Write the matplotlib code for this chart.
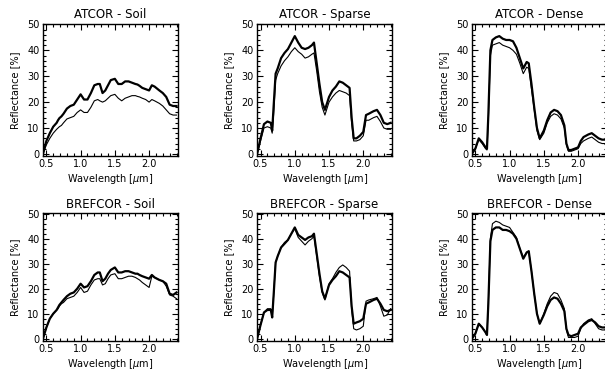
import numpy as np
import matplotlib
matplotlib.use('Agg')
import matplotlib.pyplot as plt
from matplotlib.ticker import MultipleLocator

# wavelength grid in micrometres (shared by every spectrum)
wavelength = [0.45, 0.50, 0.55, 0.60, 0.65, 0.67, 0.69, 0.72, 0.75, 0.80,
              0.85, 0.90, 0.95, 1.00, 1.05, 1.10, 1.15, 1.20, 1.25, 1.28,
              1.32, 1.36, 1.40, 1.44, 1.50, 1.55, 1.60, 1.65, 1.70, 1.75,
              1.80, 1.83, 1.86, 1.90, 1.95, 2.00, 2.04, 2.08, 2.15, 2.20,
              2.25, 2.30, 2.35, 2.40]

# ATCOR - soil
atcor_soil_thick = [0, 5, 8, 10.5, 12, 13, 13.8, 14.5, 15.5, 17.5,
                    18.5, 19, 21, 23, 21, 21, 23.5, 26.5, 27, 27,
                    23.5, 24.5, 26.5, 28.5, 29, 27, 27, 28, 28, 27.5,
                    27, 26.8, 26.3, 25.5, 25, 24.5, 26.5, 26, 24.5, 23.5,
                    22, 19, 18.5, 18.5]
atcor_soil_thin = [0, 3.5, 6, 8, 9.5, 10, 10.5, 11, 12, 13.5,
                   14, 14.5, 16, 17, 16, 16, 18, 20.5, 21, 20.5,
                   20, 20.5, 21.5, 22.5, 23, 21.5, 20.5, 21.5, 22, 22.5,
                   22.5, 22.2, 22, 21.5, 21, 20, 21, 20.5, 19.5, 18.5,
                   17, 15.5, 15, 15]

# ATCOR - sparse
atcor_sparse_thick = [0, 6, 11.5, 12.5, 12, 9, 18, 31, 33, 37,
                      39, 40.5, 43, 45.5, 43, 41, 40.5, 41, 42, 43,
                      35, 27, 20, 17, 22, 24.5, 26, 28, 27.5, 26.5,
                      25.5, 14, 6, 6, 7, 8.5, 15, 15.5, 16.5, 17,
                      15, 12, 11.5, 12]
atcor_sparse_thin = [0, 5, 10, 10.5, 10, 8, 15, 28.5, 31, 34,
                     36, 37.5, 39.5, 41, 39.5, 38.5, 37, 37.5, 38.5, 39,
                     32, 24, 18, 15, 20, 22, 23.5, 24.5, 24, 23.5,
                     22.5, 12, 5, 5, 5.5, 7, 13, 13, 14, 14.5,
                     12.5, 10, 9.5, 9.5]

# ATCOR - dense
atcor_dense_thick = [0, 2, 6, 4.5, 2.5, 2, 15, 40, 44, 45,
                     45.5, 44.5, 44, 44, 43.5, 41, 37, 33, 35.5, 35,
                     27, 18, 10, 6, 9, 13, 16, 17, 16.5, 15,
                     11, 4, 1.5, 1.5, 2, 2.5, 5, 6.5, 7.5, 8,
                     7, 6, 5.5, 5.5]
atcor_dense_thin = [0, 2, 5.5, 4, 2, 1.5, 13, 38, 42, 42.5,
                    43, 42, 41.5, 41, 40, 38.5, 35, 31, 33.5, 33,
                    25, 17, 9, 5.5, 8, 12, 14.5, 15.5, 15, 13.5,
                    10, 3.5, 1, 1, 1.5, 2, 4, 5, 6, 6.5,
                    5.5, 4.5, 4, 4]

# BREFCOR - soil
brefcor_soil_thick = [0, 4.5, 8, 10, 11.5, 12.5, 13.5, 14.5, 15.5, 17,
                      18, 18.5, 20, 22, 20.5, 21, 23, 25.5, 26.5, 26.5,
                      23, 24, 26, 27.5, 28.5, 26.5, 26.5, 27, 27, 26.5,
                      26, 26, 25.5, 25, 24.5, 24, 25.5, 24.5, 23.5, 23,
                      22, 18, 17.5, 18.5]
brefcor_soil_thin = [0, 4.5, 8, 10, 11.5, 12, 13, 14, 14.5, 16,
                     16.5, 17, 18.5, 20.5, 18.5, 19, 21.5, 23.5, 24, 24,
                     21.5, 22, 24, 25.5, 26, 24, 24, 24.5, 25, 25,
                     24.5, 24, 23.5, 22.5, 21.5, 20.5, 25, 24.5, 23.5, 23,
                     21, 17.5, 17, 16]

# BREFCOR - sparse
brefcor_sparse_thick = [0, 5.5, 10.5, 11.5, 11.5, 8.5, 17, 30.5, 33, 36.5,
                        38, 39.5, 42, 44.5, 41.5, 40.5, 39.5, 40.5, 41, 42,
                        34, 26, 19, 16, 21.5, 23.5, 25, 27, 26.5, 25.5,
                        24.5, 13, 6, 6.5, 7, 8, 14, 14.5, 15.5, 16,
                        14, 11.5, 11, 11.5]
brefcor_sparse_thin = [0, 5.5, 10.5, 12, 12, 8.5, 17, 30.5, 33, 36.5,
                       38.5, 39.5, 42, 44, 40.5, 39, 37.5, 39, 40, 41,
                       33, 25, 18.5, 15.5, 22, 24, 26.5, 28.5, 29.5, 28.5,
                       27, 12, 4, 3.5, 4, 5, 15, 15.5, 16, 16.5,
                       13, 9, 9.5, 12]

# BREFCOR - dense
brefcor_dense_thick = [0, 2, 6, 4.5, 2.5, 1.5, 14, 39, 43.5, 44.5,
                       44.5, 43.5, 43.5, 43, 42, 40, 36, 32, 34.5, 35,
                       27, 18, 10, 6, 9.5, 13, 15.5, 16.5, 16, 14,
                       11, 4, 1.5, 1, 1.5, 2, 4.5, 5.5, 7, 7.5,
                       6.5, 5, 4.5, 4.5]
brefcor_dense_thin = [0, 2, 6, 4.5, 2.5, 1.5, 14, 40, 46, 47,
                      46.5, 45.5, 45, 44.5, 42.5, 40.5, 36, 32.5, 34.5, 35,
                      27, 18, 10, 6, 10, 14, 17, 18.5, 18, 15.5,
                      12, 3.5, 0.5, 0.5, 0.5, 1, 4, 6, 7.5, 8,
                      6, 4, 3.5, 3.5]

titles = ['ATCOR - Soil', 'ATCOR - Sparse', 'ATCOR - Dense',
          'BREFCOR - Soil', 'BREFCOR - Sparse', 'BREFCOR - Dense']
thick_lines = [atcor_soil_thick, atcor_sparse_thick, atcor_dense_thick,
               brefcor_soil_thick, brefcor_sparse_thick, brefcor_dense_thick]
thin_lines = [atcor_soil_thin, atcor_sparse_thin, atcor_dense_thin,
              brefcor_soil_thin, brefcor_sparse_thin, brefcor_dense_thin]

fig = plt.figure(figsize=(6.05, 3.74), dpi=100)

# axes boxes (figure fractions)
lefts = [0.071, 0.425, 0.780]
bottoms = [0.583, 0.089]
heights = [0.353, 0.341]
width = 0.223

for i in range(6):
    row = i // 3
    col = i % 3
    ax = fig.add_axes([lefts[col], bottoms[row], width, heights[row]])
    ax.plot(wavelength, thin_lines[i], color='black', lw=0.8)
    ax.plot(wavelength, thick_lines[i], color='black', lw=1.6)
    ax.set_xlim(0.45, 2.42)
    ax.set_ylim(-0.8, 50.2)
    ax.xaxis.set_major_locator(MultipleLocator(0.5))
    ax.xaxis.set_minor_locator(MultipleLocator(0.1))
    ax.yaxis.set_major_locator(MultipleLocator(10))
    ax.yaxis.set_minor_locator(MultipleLocator(2))
    ax.tick_params(which='both', direction='in', top=True, right=True,
                   labelsize=7, pad=2.5, width=0.8)
    ax.tick_params(which='major', length=4)
    ax.tick_params(which='minor', length=2)
    for s in ax.spines.values():
        s.set_linewidth(1.0)
    ax.set_title(titles[i], fontsize=8.5, pad=4)
    ax.set_xlabel(r'Wavelength [$\mu$m]', fontsize=7, labelpad=2)
    ax.set_ylabel('Reflectance [%]', fontsize=7, labelpad=5)

plt.savefig('out.png', dpi=100)
